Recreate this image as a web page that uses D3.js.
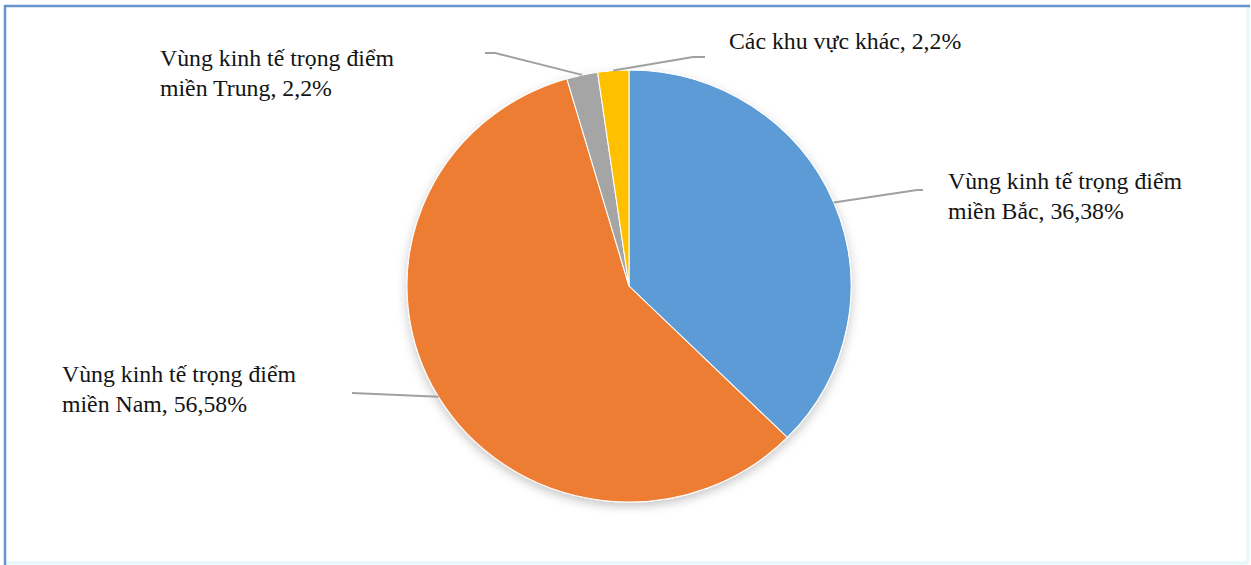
<!DOCTYPE html>
<html lang="vi">
<head>
<meta charset="utf-8">
<script src="https://cdn.jsdelivr.net/npm/d3@7"></script>
<style>
  html, body { margin: 0; padding: 0; background: #ffffff; }
  svg { display: block; }
  .lbl { font-family: "Liberation Serif", "Times New Roman", serif; font-size: 23.8px; fill: #141414; }
</style>
</head>
<body>
<svg id="chart" width="1251" height="565"></svg>
<script>
// Regions, in drawing order clockwise from 12 o'clock
const regionLines = [
  ["Vùng kinh tế trọng điểm", "miền Bắc"],
  ["Vùng kinh tế trọng điểm", "miền Nam"],
  ["Vùng kinh tế trọng điểm", "miền Trung"],
  ["Các khu vực khác"]
];
// Share of each region, %
const shares = [36.38, 56.58, 2.2, 2.2];
const sliceColors = ["#5b9bd5", "#ed7d31", "#a5a5a5", "#ffc000"];

// Label placement: first-line baseline, and leader line knee / end points
const labelPos = [
  { x: 948, y: 189, knee: [917, 190], end: [923, 190] },
  { x: 62,  y: 382, knee: [352, 393], end: [352, 393] },
  { x: 160, y: 66,  knee: [495, 53],  end: [485, 53] },
  { x: 729, y: 49,  knee: [693, 57],  end: [705, 57] }
];
const lineStep = 30;

const svg = d3.select("#chart");
const W = 1251, H = 565;

// Frame
svg.append("rect").attr("x", 0).attr("y", 0).attr("width", W).attr("height", H).attr("fill", "#ffffff");
svg.append("line").attr("x1", 1248).attr("y1", 6).attr("x2", 1248).attr("y2", 563)
  .attr("stroke", "#e3f7fd").attr("stroke-width", 3);
svg.append("line").attr("x1", 5).attr("y1", 563).attr("x2", 1248).attr("y2", 563)
  .attr("stroke", "#e3f7fd").attr("stroke-width", 3);
svg.append("line").attr("x1", 4).attr("y1", 6).attr("x2", 1250).attr("y2", 6)
  .attr("stroke", "#6694cf").attr("stroke-width", 2.5);
svg.append("line").attr("x1", 5).attr("y1", 5).attr("x2", 5).attr("y2", 565)
  .attr("stroke", "#6694cf").attr("stroke-width", 2.5);

// Soft shadow under the pie
const defs = svg.append("defs");
const f = defs.append("filter").attr("id", "pieShadow")
  .attr("x", "-20%").attr("y", "-20%").attr("width", "140%").attr("height", "140%");
f.append("feDropShadow").attr("dx", 0).attr("dy", 4).attr("stdDeviation", 5)
  .attr("flood-color", "#000").attr("flood-opacity", 0.22);

const cx = 629, cy = 286, rx = 222, ry = 216;

const pie = d3.pie().sort(null).value(d => d.value);
const arcs = pie(shares.map((v, i) => ({ value: v, i })));
const arc = d3.arc().innerRadius(0).outerRadius(ry);

const g = svg.append("g")
  .attr("transform", `translate(${cx},${cy}) scale(${rx / ry},1)`)
  .attr("filter", "url(#pieShadow)");

g.selectAll("path.slice")
  .data(arcs)
  .join("path")
  .attr("class", "slice")
  .attr("d", arc)
  .attr("fill", d => sliceColors[d.data.i])
  .attr("stroke", "#ffffff")
  .attr("stroke-width", 1);

// Leader lines from the rim at each slice's mid-angle
const fmt = v => String(v).replace(".", ",");
arcs.forEach(d => {
  const i = d.data.i;
  const a = (d.startAngle + d.endAngle) / 2;
  const sx = cx + rx * Math.sin(a);
  const sy = cy - ry * Math.cos(a);
  const p = labelPos[i];
  svg.append("path")
    .attr("d", d3.line()([[sx, sy], p.knee, p.end]))
    .attr("fill", "none")
    .attr("stroke", "#a0a0a0")
    .attr("stroke-width", 2);

  const lines = regionLines[i].slice();
  lines[lines.length - 1] = lines[lines.length - 1] + ", " + fmt(shares[i]) + "%";
  const t = svg.append("text").attr("class", "lbl").attr("x", p.x).attr("y", p.y);
  lines.forEach((ln, k) => {
    t.append("tspan").attr("x", p.x).attr("y", p.y + k * lineStep).text(ln);
  });
});
</script>
</body>
</html>
